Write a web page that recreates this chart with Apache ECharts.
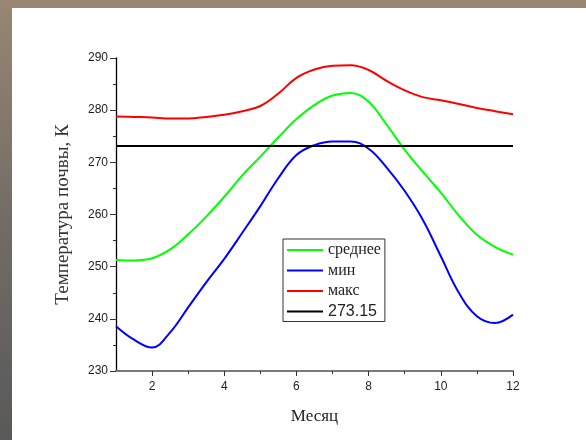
<!DOCTYPE html>
<html>
<head>
<meta charset="utf-8">
<script src="https://cdn.jsdelivr.net/npm/echarts@6/dist/echarts.min.js"></script>
<style>
html,body{margin:0;padding:0;background:#fff;}
#c{width:586px;height:440px;}
</style>
</head>
<body>
<div id="c"></div>
<script>
// Month positions (half-month sampling)
var months = [1,1.5,2,2.5,3,3.5,4,4.5,5,5.5,6,6.5,7,7.5,8,8.5,9,9.5,10,10.5,11,11.5,12];
var meanK = [251.3,251.2,251.6,253.3,256.2,259.6,263.4,267.5,271.1,274.8,278.3,281.0,282.8,283.3,281.6,277.2,272.4,268.2,264.2,259.8,256.1,253.8,252.3];
var minK  = [238.6,236.0,234.5,237.4,242.2,247.0,251.5,256.5,261.6,267.0,271.4,273.3,274.0,274.0,272.6,269.0,264.5,259.0,252.0,245.0,240.5,239.2,240.8];
var maxK  = [278.8,278.7,278.6,278.4,278.4,278.7,279.1,279.8,280.8,283.2,286.2,287.8,288.5,288.6,287.7,285.6,283.8,282.5,281.9,281.2,280.4,279.8,279.2];
var freezeMonths = [1,12];
var freezeK = [273.15,273.15];
var seriesNames = ['среднее','мин','макс','273.15'];
var xMajorTicks = [2,4,6,8,10,12];
var xMinorTicks = [3,5,7,9,11];
var yTicks = [230,240,250,260,270,280,290];

function pairs(xs, ys){ return xs.map(function(x,i){ return [x, ys[i]]; }); }

var chart = echarts.init(document.getElementById('c'), null, {renderer:'canvas'});
var xBase = {
  type:'value', min:1, max:12, position:'bottom',
  splitLine:{show:false}
};
chart.setOption({
  animation:false,
  backgroundColor:'#ffffff',
  graphic:[
    {type:'rect', left:0, top:0, shape:{width:586,height:8}, style:{fill:'#998672'}, z:100},
    {type:'rect', left:0, top:0, shape:{width:12,height:440}, style:{fill:new echarts.graphic.LinearGradient(0,0,0,1,[{offset:0,color:'#998672'},{offset:0.5,color:'#726c66'},{offset:1,color:'#595959'}])}, z:100}
  ],
  grid:{left:116, right:73, top:58, bottom:69},
  legend:{
    orient:'vertical', left:283, top:239,
    data:seriesNames,
    icon:'rect', itemWidth:36, itemHeight:2, itemGap:4.5,
    padding:[3,4,2,4],
    borderColor:'#333', borderWidth:1,
    backgroundColor:'#fff',
    formatter:function(n){ return n==='273.15' ? '{s|'+n+'}' : '{t|'+n+'}'; },
    textStyle:{
      rich:{
        t:{fontFamily:'"Liberation Serif","Times New Roman",serif', fontSize:16, color:'#222', lineHeight:16},
        s:{fontFamily:'"Liberation Sans",Arial,sans-serif', fontSize:16, color:'#222', lineHeight:16}
      }
    }
  },
  xAxis:[
    Object.assign({}, xBase, {
      name:'Месяц', nameLocation:'middle', nameGap:37,
      nameTextStyle:{fontFamily:'"Liberation Serif","Times New Roman",serif', fontSize:17, color:'#222'},
      axisLine:{show:true, lineStyle:{color:'#7a7a7a', width:2}},
      axisTick:{show:true, length:5, customValues:xMajorTicks, lineStyle:{color:'#333', width:1}},
      axisLabel:{customValues:xMajorTicks, margin:10, fontFamily:'"Liberation Sans",Arial,sans-serif', fontSize:12, color:'#222'}
    }),
    Object.assign({}, xBase, {
      axisLine:{show:false},
      axisTick:{show:true, length:3, customValues:xMinorTicks, lineStyle:{color:'#333', width:1}},
      axisLabel:{show:false}
    })
  ],
  yAxis:{
    type:'value', min:230, max:290, interval:10,
    name:'Температура почвы, К', nameLocation:'middle', nameGap:43,
    nameTextStyle:{fontFamily:'"Liberation Serif","Times New Roman",serif', fontSize:19, color:'#333'},
    axisLine:{show:true, lineStyle:{color:'#000', width:1.3}},
    axisTick:{show:true, length:6, lineStyle:{color:'#333'}},
    minorTick:{show:true, splitNumber:2, length:3, lineStyle:{color:'#333'}},
    splitLine:{show:false},
    axisLabel:{margin:8, fontFamily:'"Liberation Sans",Arial,sans-serif', fontSize:12, color:'#222',
      formatter:function(v){ return yTicks.indexOf(v)>=0 ? String(v) : ''; }}
  },
  series:[
    {name:seriesNames[0], type:'line', data:pairs(months, meanK), smooth:0.4, showSymbol:false, lineStyle:{color:'#00ff00', width:2}, itemStyle:{color:'#00ff00'}},
    {name:seriesNames[1], type:'line', data:pairs(months, minK), smooth:0.4, showSymbol:false, lineStyle:{color:'#0000ff', width:2}, itemStyle:{color:'#0000ff'}},
    {name:seriesNames[2], type:'line', data:pairs(months, maxK), smooth:0.4, showSymbol:false, lineStyle:{color:'#ff0000', width:2}, itemStyle:{color:'#ff0000'}},
    {name:seriesNames[3], type:'line', data:pairs(freezeMonths, freezeK), showSymbol:false, lineStyle:{color:'#000000', width:2}, itemStyle:{color:'#000000'}}
  ]
});
</script>
</body>
</html>
